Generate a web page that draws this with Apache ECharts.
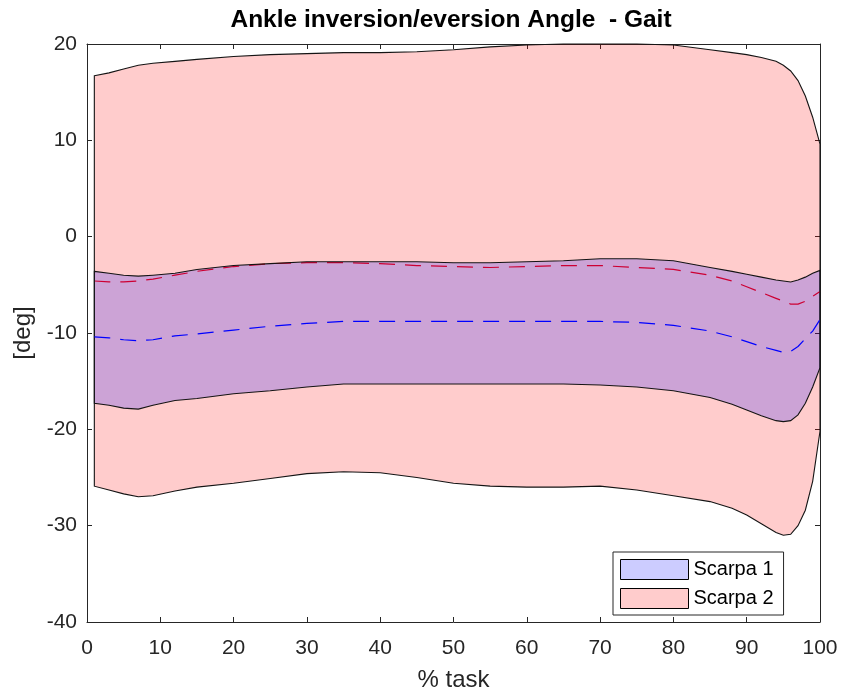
<!DOCTYPE html>
<html>
<head>
<meta charset="utf-8">
<title>Ankle inversion/eversion Angle - Gait</title>
<script src="https://cdn.jsdelivr.net/npm/echarts@6/dist/echarts.min.js"></script>
<style>
  html, body { margin: 0; padding: 0; background: #fff; }
  #chart { width: 841px; height: 697px; }
</style>
</head>
<body>
<div id="chart"></div>
<script>
// % of gait cycle at which the curves are sampled
const taskPct = [1, 3, 5, 7, 9, 12, 15, 20, 25, 30, 35, 40, 45, 50, 55, 60, 65, 70, 75, 80, 85, 88, 90, 92, 94, 95, 96, 97, 98, 99, 100];

// Scarpa 1: mean and band limits [deg]
const scarpa1Mean = [-10.4, -10.5, -10.7, -10.8, -10.7, -10.3, -10.1, -9.7, -9.3, -9.0, -8.8, -8.8, -8.8, -8.8, -8.8, -8.8, -8.8, -8.8, -8.9, -9.2, -9.8, -10.4, -10.9, -11.4, -11.8, -12.0, -11.9, -11.4, -10.6, -9.8, -8.6];
const scarpa1Upper = [-3.6, -3.8, -4.0, -4.1, -4.0, -3.8, -3.4, -3.0, -2.8, -2.6, -2.6, -2.6, -2.6, -2.7, -2.7, -2.6, -2.5, -2.3, -2.3, -2.5, -3.2, -3.6, -3.9, -4.2, -4.5, -4.6, -4.7, -4.5, -4.2, -3.8, -3.5];
const scarpa1Lower = [-17.3, -17.5, -17.8, -17.9, -17.5, -17.0, -16.8, -16.3, -16.0, -15.6, -15.3, -15.3, -15.3, -15.3, -15.3, -15.3, -15.3, -15.4, -15.6, -16.0, -16.7, -17.4, -18.0, -18.6, -19.1, -19.2, -19.1, -18.5, -17.3, -15.6, -13.6];

// Scarpa 2: mean and band limits [deg]
const scarpa2Mean = [-4.6, -4.7, -4.7, -4.6, -4.4, -4.0, -3.6, -3.1, -2.8, -2.7, -2.7, -2.8, -3.0, -3.1, -3.2, -3.1, -3.0, -3.0, -3.2, -3.4, -4.0, -4.6, -5.2, -5.8, -6.4, -6.7, -7.0, -7.0, -6.7, -6.2, -5.7];
const scarpa2Upper = [16.7, 17.0, 17.4, 17.8, 18.0, 18.2, 18.4, 18.7, 18.9, 19.0, 19.1, 19.1, 19.2, 19.4, 19.7, 19.9, 20.0, 20.0, 20.0, 19.9, 19.4, 19.1, 18.9, 18.6, 18.2, 17.8, 17.2, 16.2, 14.6, 12.4, 9.6];
const scarpa2Lower = [-25.9, -26.3, -26.7, -27.0, -26.9, -26.4, -26.0, -25.6, -25.1, -24.6, -24.4, -24.5, -25.0, -25.6, -25.9, -26.0, -26.0, -25.9, -26.3, -26.9, -27.5, -28.2, -28.9, -29.8, -30.7, -31.0, -30.9, -30.0, -28.4, -25.4, -20.2];

// Axis ticks
const xTicks = [0, 10, 20, 30, 40, 50, 60, 70, 80, 90, 100];
const yTicks = [-40, -30, -20, -10, 0, 10, 20];

const FONT = "'Liberation Sans', Arial, Helvetica, sans-serif";
const AXIS_COLOR = '#262626';

const chart = echarts.init(document.getElementById('chart'), null, { renderer: 'canvas' });

// Filled band between lower and upper limits, outlined like a patch
function bandSeries(name, lower, upper, fill, z) {
  return {
    name: name,
    type: 'custom',
    z: z,
    silent: true,
    itemStyle: { color: fill },
    encode: { x: 0, y: [1, 2] },
    data: taskPct.map((x, i) => [x, lower[i], upper[i]]),
    renderItem: function (params, api) {
      if (params.dataIndex !== 0) return null;
      const pts = [];
      for (let i = 0; i < taskPct.length; i++) pts.push(api.coord([taskPct[i], upper[i]]));
      for (let i = taskPct.length - 1; i >= 0; i--) pts.push(api.coord([taskPct[i], lower[i]]));
      return {
        type: 'polygon',
        shape: { points: pts },
        style: { fill: fill, stroke: '#141414', lineWidth: 1.1 }
      };
    }
  };
}

function meanSeries(name, values, color, z) {
  return {
    name: name,
    type: 'line',
    z: z,
    silent: true,
    showSymbol: false,
    symbol: 'none',
    smooth: false,
    lineStyle: { color: color, width: 1.2, type: [16, 10] },
    data: taskPct.map((x, i) => [x, values[i]])
  };
}

const tickLabelStyle = { fontFamily: FONT, fontSize: 21, color: AXIS_COLOR };

const option = {
  animation: false,
  backgroundColor: '#fff',
  title: {
    text: 'Ankle inversion/eversion Angle  - Gait',
    left: 451,
    top: 8,
    padding: 0,
    textAlign: 'center',
    textStyle: { fontFamily: FONT, fontSize: 24.5, fontWeight: 'bold', color: '#000' }
  },
  legend: {
    orient: 'vertical',
    left: 613,
    top: 552,
    padding: [7, 10, 6, 7],
    itemGap: 8,
    itemWidth: 68,
    itemHeight: 20,
    backgroundColor: '#fff',
    borderColor: AXIS_COLOR,
    borderWidth: 1,
    borderRadius: 0,
    selectedMode: false,
    textStyle: { fontFamily: FONT, fontSize: 20, color: '#000', lineHeight: 20 },
    data: [
      { name: 'Scarpa 1', icon: 'rect', itemStyle: { color: 'rgba(0,0,255,0.2)', borderColor: '#000', borderWidth: 1 } },
      { name: 'Scarpa 2', icon: 'rect', itemStyle: { color: 'rgba(255,0,0,0.2)', borderColor: '#000', borderWidth: 1 } }
    ]
  },
  grid: { left: 87, right: 21, top: 44, bottom: 73, containLabel: false },
  xAxis: [
    {
      type: 'value',
      min: xTicks[0],
      max: xTicks[xTicks.length - 1],
      interval: 10,
      name: '% task',
      nameLocation: 'middle',
      nameGap: 46,
      nameTextStyle: { fontFamily: FONT, fontSize: 24, color: AXIS_COLOR },
      axisLine: { show: true, onZero: false, lineStyle: { color: AXIS_COLOR, width: 1 } },
      axisTick: { show: true, inside: true, length: 5, lineStyle: { color: AXIS_COLOR } },
      axisLabel: Object.assign({ margin: 16 }, tickLabelStyle),
      splitLine: { show: false }
    },
    {
      type: 'value',
      position: 'top',
      min: xTicks[0],
      max: xTicks[xTicks.length - 1],
      interval: 10,
      axisLine: { show: true, onZero: false, lineStyle: { color: AXIS_COLOR, width: 1 } },
      axisTick: { show: true, inside: true, length: 5, lineStyle: { color: AXIS_COLOR } },
      axisLabel: { show: false },
      splitLine: { show: false }
    }
  ],
  yAxis: [
    {
      type: 'value',
      min: yTicks[0],
      max: yTicks[yTicks.length - 1],
      interval: 10,
      name: '[deg]',
      nameLocation: 'middle',
      nameGap: 50,
      nameTextStyle: { fontFamily: FONT, fontSize: 24, color: AXIS_COLOR },
      axisLine: { show: true, onZero: false, lineStyle: { color: AXIS_COLOR, width: 1 } },
      axisTick: { show: true, inside: true, length: 5, lineStyle: { color: AXIS_COLOR } },
      axisLabel: Object.assign({ margin: 10 }, tickLabelStyle),
      splitLine: { show: false }
    },
    {
      type: 'value',
      position: 'right',
      min: yTicks[0],
      max: yTicks[yTicks.length - 1],
      interval: 10,
      axisLine: { show: true, onZero: false, lineStyle: { color: AXIS_COLOR, width: 1 } },
      axisTick: { show: true, inside: true, length: 5, lineStyle: { color: AXIS_COLOR } },
      axisLabel: { show: false },
      splitLine: { show: false }
    }
  ],
  series: [
    bandSeries('Scarpa 2', scarpa2Lower, scarpa2Upper, 'rgba(255,0,0,0.2)', 1),
    meanSeries('Scarpa 2 mean', scarpa2Mean, '#ff0000', 2),
    bandSeries('Scarpa 1', scarpa1Lower, scarpa1Upper, 'rgba(0,0,255,0.2)', 3),
    meanSeries('Scarpa 1 mean', scarpa1Mean, '#0000ff', 4)
  ]
};

chart.setOption(option);
</script>
</body>
</html>
